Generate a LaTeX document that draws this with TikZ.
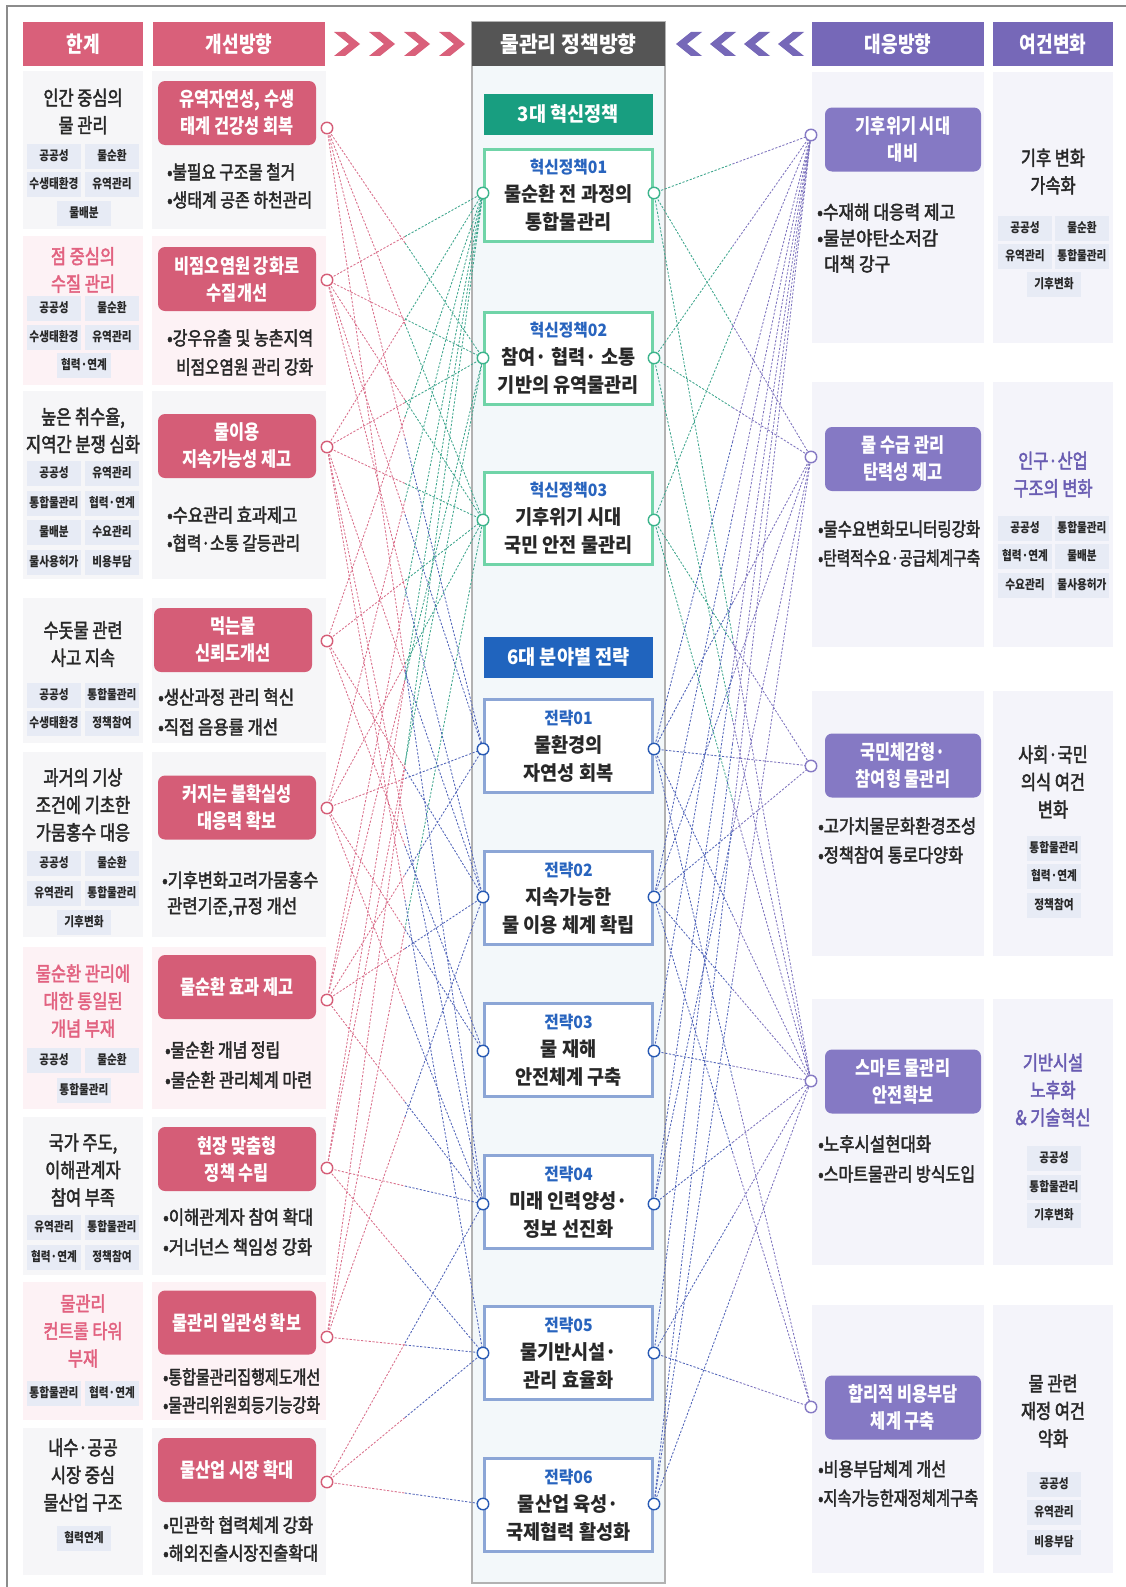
\documentclass[tikz,border=0pt]{standalone}
\usepackage{fontspec}
\setmainfont{Noto Sans CJK KR}[FakeStretch=0.82]
\newfontfamily\medfont{Noto Sans CJK KR}[FakeStretch=0.82, FakeBold=2.2]
\newfontfamily\ctrfont{Noto Sans CJK KR}[FakeStretch=0.93]
\usetikzlibrary{calc}

\definecolor{pinkhead}{RGB}{217,96,122}
\definecolor{pinktitle}{RGB}{213,93,119}
\definecolor{pinktext}{RGB}{226,98,128}
\definecolor{purphead}{RGB}{118,104,184}
\definecolor{purptitle}{RGB}{133,121,196}
\definecolor{purptext}{RGB}{105,92,178}
\definecolor{greenbox}{RGB}{24,158,128}
\definecolor{greenline}{RGB}{112,212,168}
\definecolor{bluebox}{RGB}{32,100,190}
\definecolor{blueline}{RGB}{140,166,214}
\definecolor{labelblue}{RGB}{40,100,190}
\definecolor{darkhead}{RGB}{85,85,85}
\definecolor{panelgray}{RGB}{246,246,248}
\definecolor{panelpink}{RGB}{253,242,245}
\definecolor{panelpurp}{RGB}{244,244,250}
\definecolor{tagbg}{RGB}{231,235,245}
\definecolor{txt}{RGB}{40,40,40}
\definecolor{ctrbg}{RGB}{243,248,250}
\definecolor{framegray}{RGB}{140,140,140}
\definecolor{lnpink}{RGB}{218,110,138}
\definecolor{lnteal}{RGB}{60,165,140}
\definecolor{lnblue}{RGB}{80,100,185}
\definecolor{lnpurp}{RGB}{125,115,190}
\definecolor{cteal}{RGB}{60,180,140}
\definecolor{cblue}{RGB}{40,90,180}

\newsavebox\fitbox
\newcommand\fitto[2]{\sbox\fitbox{#2}\pgfmathsetmacro\fitr{#1/\the\wd\fitbox}\scalebox{\fitr}[1]{\usebox\fitbox}}

\tikzset{
 hdr/.style={text=white, font=\fontsize{22}{26}\selectfont\bfseries, inner sep=0, minimum height=44},
 ttl/.style={rounded corners=7, text=white, align=center, font=\fontsize{20}{27}\selectfont\bfseries, inner sep=0, minimum width=158, minimum height=64},
 maintxt/.style={align=center, text=txt, font=\medfont\fontsize{20}{27.5}\selectfont, inner sep=0},
 tagbox/.style={fill=tagbg, text=txt, font=\fontsize{13}{15}\selectfont\bfseries, inner sep=0, minimum width=54, minimum height=25},
 bul/.style={anchor=west, inner sep=0, text=txt, font=\medfont\fontsize{19}{22}\selectfont},
 pbox/.style={draw=greenline, line width=3, fill=white, minimum width=168, minimum height=92, inner sep=0, align=center, text=txt, font=\ctrfont\fontsize{20}{28}\selectfont\bfseries},
 stratbox/.style={pbox, draw=blueline, minimum height=93},
 secbox/.style={text=white, font=\ctrfont\fontsize{20}{24}\selectfont\bfseries, inner sep=0, minimum width=169, minimum height=41},
 dl/.style={dash pattern=on 2.2pt off 1.6pt, line width=0.85},
 mk/.style={circle, fill=white, line width=1.4, minimum size=11.5, inner sep=0},
}

\begin{document}
\begin{tikzpicture}[x=1pt,y=-1pt]
\useasboundingbox (0,0) rectangle (1125,1587);
\fill[white] (0,0) rectangle (1125,1587);
\draw[framegray, line width=1.6] (7,1590) -- (7,6) -- (1128,6);

% ---------------- headers
\node[hdr, fill=pinkhead, minimum width=120] (hA) at (83,44) {한계};
\node[hdr, fill=pinkhead, minimum width=172] (hB) at (239,44) {개선방향};
\node[hdr, fill=purphead, minimum width=172] (hD) at (898,44) {대응방향};
\node[hdr, fill=purphead, minimum width=120] (hE) at (1053,44) {여건변화};
\foreach \cx in {334,369,404,439}
  \fill[pinkhead] (\cx,32) -- ++(11,0) -- ++(15,12) -- ++(-15,12) -- ++(-11,0) -- ++(15,-12) -- cycle;
\foreach \cx in {676,710,744,778}
  \fill[purphead] (\cx,44) -- ++(15,-12) -- ++(11,0) -- ++(-15,12) -- ++(15,12) -- ++(-11,0) -- cycle;

% ---------------- left panels
\foreach \ya/\yb/\cl in {71/229/panelgray, 236/385/panelpink, 391/579/panelgray, 598/743/panelgray, 752/937/panelgray, 947/1109/panelpink, 1117/1275/panelgray, 1282/1420/panelpink, 1428/1575/panelgray}{
  \fill[\cl] (23,\ya) rectangle (143,\yb);
  \fill[\cl] (152,\ya) rectangle (326,\yb);
}
% ---------------- right panels
\foreach \ya/\yb in {72/343, 382/647, 691/956, 999/1265, 1305/1573}{
  \fill[panelpurp] (812,\ya) rectangle (984,\yb);
  \fill[panelpurp] (993,\ya) rectangle (1113,\yb);
}

% ---------------- column 1 texts
\node[maintxt] (m1) at (83,111.5) {인간 중심의\\물 관리};
\node[maintxt, text=pinktext] (m2) at (83,270) {점 중심의\\수질 관리};
\node[maintxt] (m3) at (83,430.5) {높은 취수율,\\\fitto{114}{지역간 분쟁 심화}};
\node[maintxt] (m4) at (83,644) {수돗물 관련\\사고 지속};
\node[maintxt] (m5) at (83,805) {과거의 기상\\조건에 기초한\\가뭄홍수 대응};
\node[maintxt, text=pinktext] (m6) at (83,1001) {물순환 관리에\\대한 통일된\\개념 부재};
\node[maintxt] (m7) at (83,1170) {국가 주도,\\이해관계자\\참여 부족};
\node[maintxt, text=pinktext] (m8) at (83,1331) {물관리\\컨트롤 타워\\부재};
\node[maintxt] (m9) at (83,1475) {내수·공공\\시장 중심\\물산업 구조};

\foreach \x/\y/\t [count=\i] in {
 54/156/공공성, 112/156/물순환, 54/184/수생태환경, 112/184/유역관리, 84/213/물배분,
 54/308/공공성, 112/308/물순환, 54/337/수생태환경, 112/337/유역관리, 84/365/협력·연계,
 54/473/공공성, 112/473/유역관리, 54/503/통합물관리, 112/503/협력·연계, 54/532/물배분, 112/532/수요관리, 54/562/물사용허가, 112/562/비용부담,
 54/695/공공성, 112/695/통합물관리, 54/723/수생태환경, 112/723/정책참여,
 54/863/공공성, 112/863/물순환, 54/893/유역관리, 112/893/통합물관리, 84/922/기후변화,
 54/1060/공공성, 112/1060/물순환, 84/1090/통합물관리,
 54/1227/유역관리, 112/1227/통합물관리, 54/1257/협력·연계, 112/1257/정책참여,
 54/1393/통합물관리, 112/1393/협력·연계,
 84/1538/협력연계}
  \node[tagbox] (tagL\i) at (\x,\y) {\t};

% ---------------- column 2 titles and bullets
\node[ttl, fill=pinktitle] (tl1) at (237,113) {유역자연성, 수생\\태계 건강성 회복};
\node[ttl, fill=pinktitle] (tl2) at (237,279) {비점오염원 강화로\\수질개선};
\node[ttl, fill=pinktitle] (tl3) at (237,446) {물이용\\지속가능성 제고};
\node[ttl, fill=pinktitle] (tl4) at (233,640) {먹는물\\신뢰도개선};
\node[ttl, fill=pinktitle] (tl5) at (237,807.5) {커지는 불확실성\\대응력 확보};
\node[ttl, fill=pinktitle] (tl6) at (237,987) {물순환 효과 제고};
\node[ttl, fill=pinktitle] (tl7) at (237,1159) {현장 맞춤형\\정책 수립};
\node[ttl, fill=pinktitle] (tl8) at (237,1322.5) {물관리 일관성 확보};
\node[ttl, fill=pinktitle] (tl9) at (237,1470) {물산업 시장 확대};

\foreach \x/\y/\w/\t [count=\i] in {
 167/172/128/{•불필요 구조물 철거}, 167/200/145/{•생태계 공존 하천관리},
 167/338/146/{•강우유출 및 농촌지역}, 176/367/137/{비점오염원 관리 강화},
 167/515/130/{•수요관리 효과제고}, 167/543/133/{•협력·소통 갈등관리},
 158/697/136/{•생산과정 관리 혁신}, 158/727/120/{•직접 음용률 개선},
 162/880/156/{•기후변화고려가뭄홍수}, 167/907/130/{관련기준,규정 개선},
 165/1050/115/{•물순환 개념 정립}, 165/1080/147/{•물순환 관리체계 마련},
 163/1217/150/{•이해관계자 참여 확대}, 163/1247/149/{•거너넌스 책임성 강화},
 163/1377/157/{•통합물관리집행제도개선}, 163/1405/157/{•물관리위원회등기능강화},
 163/1525/150/{•민관학 협력체계 강화}, 163/1553/155/{•해외진출시장진출확대}}
  \node[bul] (bL\i) at (\x,\y) {\fitto{\w}{\t}};

% ---------------- right columns
\node[ttl, fill=purptitle, minimum width=156] (tr1) at (903,139.5) {기후위기 시대\\대비};
\node[ttl, fill=purptitle, minimum width=156] (tr2) at (903,459) {물 수급 관리\\탄력성 제고};
\node[ttl, fill=purptitle, minimum width=156] (tr3) at (903,765.5) {국민체감형·\\참여형 물관리};
\node[ttl, fill=purptitle, minimum width=156] (tr4) at (903,1081.5) {스마트 물관리\\안전확보};
\node[ttl, fill=purptitle, minimum width=156] (tr5) at (903,1407.5) {합리적 비용부담\\체계 구축};

\foreach \x/\y/\w/\t [count=\i] in {
 817/212/138/{•수재해 대응력 제고}, 817/238/121/{•물분야탄소저감}, 824/264/66/{대책 강구},
 818/529/162/{•물수요변화모니터링강화}, 818/558/162/{•탄력적수요·공급체계구축},
 818/826/158/{•고가치물문화환경조성}, 818/855/145/{•정책참여 통로다양화},
 818/1144/113/{•노후시설현대화}, 818/1174/157/{•스마트물관리 방식도입},
 818/1469/128/{•비용부담체계 개선}, 818/1498/160/{•지속가능한재정체계구축}}
  \node[bul] (bR\i) at (\x,\y) {\fitto{\w}{\t}};

\node[maintxt] (n1) at (1053,171.5) {기후 변화\\가속화};
\node[maintxt, text=purptext] (n2) at (1053,474.5) {인구·산업\\구조의 변화};
\node[maintxt] (n3) at (1053,782) {사회·국민\\의식 여건\\변화};
\node[maintxt, text=purptext] (n4) at (1053,1090) {기반시설\\노후화\\\& 기술혁신};
\node[maintxt] (n5) at (1053,1411) {물 관련\\재정 여건\\악화};

\foreach \x/\y/\t [count=\i] in {
 1025/228/공공성, 1082/228/물순환, 1025/256/유역관리, 1082/256/통합물관리, 1054/284/기후변화,
 1025/528/공공성, 1082/528/통합물관리, 1025/556/협력·연계, 1082/556/물배분, 1025/585/수요관리, 1082/585/물사용허가,
 1054/848/통합물관리, 1054/876/협력·연계, 1054/905/정책참여,
 1054/1158/공공성, 1054/1187/통합물관리, 1054/1215/기후변화,
 1054/1484/공공성, 1054/1512/유역관리, 1054/1542/비용부담}
  \node[tagbox] (tagR\i) at (\x,\y) {\t};

% ---------------- center column
\draw[fill=ctrbg, draw=gray!60, line width=1.2] (472,22) rectangle (665,1583);
\node[hdr, fill=darkhead, minimum width=193, font=\ctrfont\fontsize{22}{26}\selectfont\bfseries] (hC) at (568.5,44) {물관리 정책방향};
\node[secbox, fill=greenbox] (sec1) at (568.5,114) {3대 혁신정책};
\node[pbox] (P1) at (568.5,195.5) {{\fontsize{17}{20}\selectfont\color{labelblue}혁신정책01}\\물순환 전 과정의\\통합물관리};
\node[pbox] (P2) at (568.5,358) {{\fontsize{17}{20}\selectfont\color{labelblue}혁신정책02}\\참여· 협력· 소통\\기반의 유역물관리};
\node[pbox] (P3) at (568.5,518) {{\fontsize{17}{20}\selectfont\color{labelblue}혁신정책03}\\기후위기 시대\\국민 안전 물관리};
\node[secbox, fill=bluebox] (sec2) at (568.5,657.5) {6대 분야별 전략};
\node[stratbox] (S1) at (568.5,746) {{\fontsize{17}{20}\selectfont\color{labelblue}전략01}\\물환경의\\자연성 회복};
\node[stratbox] (S2) at (568.5,898) {{\fontsize{17}{20}\selectfont\color{labelblue}전략02}\\지속가능한\\물 이용 체계 확립};
\node[stratbox] (S3) at (568.5,1050) {{\fontsize{17}{20}\selectfont\color{labelblue}전략03}\\물 재해\\안전체계 구축};
\node[stratbox] (S4) at (568.5,1202) {{\fontsize{17}{20}\selectfont\color{labelblue}전략04}\\미래 인력양성·\\정보 선진화};
\node[stratbox] (S5) at (568.5,1353) {{\fontsize{17}{20}\selectfont\color{labelblue}전략05}\\물기반시설·\\관리 효율화};
\node[stratbox] (S6) at (568.5,1505) {{\fontsize{17}{20}\selectfont\color{labelblue}전략06}\\물산업 육성·\\국제협력 활성화};

% ---------------- connector end points
\foreach \y [count=\i] in {128,280,447,641,808,1000,1168,1337,1482} \coordinate (l\i) at (327,\y);
\foreach \y [count=\i] in {193,358,520} {\coordinate (pL\i) at (483,\y); \coordinate (pR\i) at (654,\y);}
\foreach \y [count=\i] in {749,897,1051,1204,1353,1504} {\coordinate (sL\i) at (483,\y); \coordinate (sR\i) at (654,\y);}
\foreach \y [count=\i] in {135,457,766,1081,1407} \coordinate (r\i) at (811,\y);

% left -> innovation policies
\foreach \a/\b in {l1/pL2, l1/pL3, l2/pL1, l2/pL2, l2/pL3, l3/pL1, l3/pL2, l3/pL3, l4/pL1, l4/pL3, l5/pL1, l5/pL3, l6/pL1, l6/pL2, l7/pL1, l7/pL2, l8/pL1, l8/pL3}{
  \draw[dl, lnpink] (\a) -- ($(\a)!0.5!(\b)$);
  \draw[dl, lnteal] ($(\a)!0.5!(\b)$) -- (\b);
}
% left -> strategies
\foreach \a/\b in {l1/sL1, l1/sL4, l2/sL1, l2/sL2, l3/sL2, l3/sL4, l3/sL5, l4/sL2, l4/sL3, l5/sL1, l5/sL3, l5/sL4, l6/sL1, l6/sL2, l6/sL4, l7/sL4, l7/sL5, l8/sL2, l8/sL5, l9/sL4, l9/sL5, l9/sL6}{
  \draw[dl, lnpink] (\a) -- ($(\a)!0.5!(\b)$);
  \draw[dl, lnblue] ($(\a)!0.5!(\b)$) -- (\b);
}
% innovation policies -> right
\foreach \a/\b in {pR1/r1, pR1/r2, pR1/r4, pR2/r1, pR2/r2, pR2/r4, pR3/r1, pR3/r3, pR3/r4}{
  \draw[dl, lnteal] (\a) -- ($(\a)!0.5!(\b)$);
  \draw[dl, lnpurp] ($(\a)!0.5!(\b)$) -- (\b);
}
% strategies -> right
\foreach \a/\b in {sR1/r1, sR1/r2, sR1/r3, sR1/r4, sR1/r5, sR2/r1, sR2/r2, sR2/r3, sR2/r4, sR2/r5, sR3/r1, sR3/r4, sR4/r1, sR4/r2, sR4/r4, sR5/r1, sR5/r4, sR5/r5, sR6/r1, sR6/r2, sR6/r4}{
  \draw[dl, lnblue] (\a) -- ($(\a)!0.5!(\b)$);
  \draw[dl, lnpurp] ($(\a)!0.5!(\b)$) -- (\b);
}

% ---------------- circle markers
\foreach \i in {1,...,9} \node[mk, draw=pinktitle] (lm\i) at (l\i) {};
\foreach \i in {1,2,3} {\node[mk, draw=cteal] (pLm\i) at (pL\i) {}; \node[mk, draw=cteal] (pRm\i) at (pR\i) {};}
\foreach \i in {1,...,6} {\node[mk, draw=cblue] (sLm\i) at (sL\i) {}; \node[mk, draw=cblue] (sRm\i) at (sR\i) {};}
\foreach \i in {1,...,5} \node[mk, draw=purptitle] (rm\i) at (r\i) {};
\end{tikzpicture}
\end{document}
